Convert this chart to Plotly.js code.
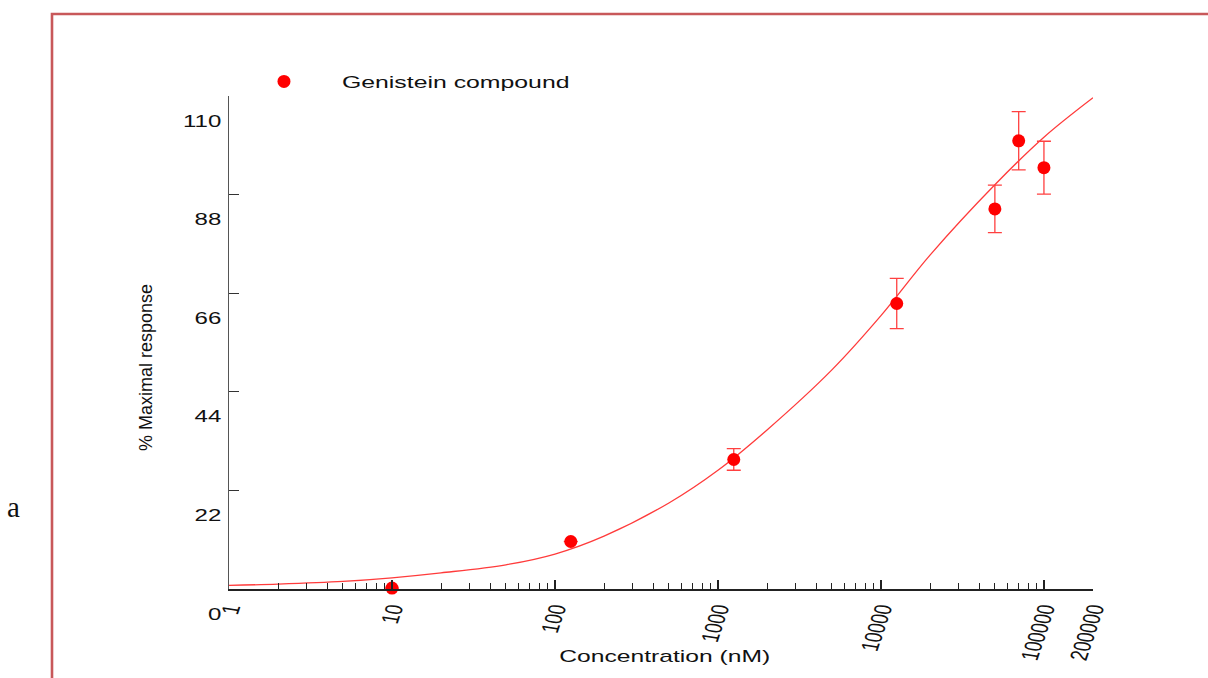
<!DOCTYPE html>
<html>
<head>
<meta charset="utf-8">
<script src="https://cdn.plot.ly/plotly-3.0.1.min.js"></script>
<style>
  html, body { margin: 0; padding: 0; background: #fff; }
  #chart { width: 1208px; height: 678px; }
</style>
</head>
<body>
<div id="chart"></div>
<script>
// ---- data ----
const seriesName = 'Genistein compound';
const ptX   = [10, 125, 1250, 12500, 50000, 70000, 100000];
const ptY   = [0.2, 10.6, 28.9, 63.7, 84.8, 100.0, 94.0];
const ptErr = [0, 0, 2.4, 5.6, 5.3, 6.5, 5.9];

const curveX = [1, 2, 5, 10, 20, 50, 100, 200, 500, 1000, 2000, 5000, 10000, 20000, 50000, 100000, 200000];
const curveY = [0.8, 1.1, 1.7, 2.5, 3.6, 5.4, 7.8, 11.8, 19.2, 26.5, 35.5, 48.9, 61.0, 74.5, 90.2, 100.8, 109.6];

const xTickVals = [1, 10, 100, 1000, 10000, 100000, 200000];
const xTickText = ['1', '10', '100', '1000', '10000', '100000', '200000'];
const yTickVals = [0, 22, 44, 66, 88, 110];
const yTickText = ['0', '22', '44', '66', '88', '110'];

const xTitle = 'Concentration (nM)';
const yTitle = '% Maximal response';
const panelLabel = 'a';

// ---- figure ----
const RED = '#ff0000';
const traces = [
  {
    x: curveX, y: curveY, type: 'scatter', mode: 'lines',
    line: { color: '#ff3b3b', width: 1.3, shape: 'spline', smoothing: 1 },
    showlegend: false, hoverinfo: 'skip'
  },
  {
    x: ptX, y: ptY, type: 'scatter', mode: 'markers', name: seriesName,
    marker: { color: RED, size: 13, symbol: 'circle' },
    error_y: { type: 'data', array: ptErr, visible: true, color: '#ff4040', thickness: 1.3, width: 7 },
    cliponaxis: false
  }
];

const FONT = 'Liberation Sans, Arial, sans-serif';
const axisFont = { family: FONT, size: 16, color: '#111' };

const layout = {
  width: 1208, height: 678,
  margin: { l: 229, r: 115, t: 96, b: 89, pad: 0 },
  paper_bgcolor: '#fff', plot_bgcolor: '#fff',
  font: axisFont,
  showlegend: true,
  legend: {
    x: -0.0035, y: 1.0294, xanchor: 'left', yanchor: 'middle',
    itemwidth: 106, bgcolor: 'rgba(0,0,0,0)', borderwidth: 0,
    font: { family: FONT, size: 16, color: '#111' }
  },
  xaxis: {
    type: 'log', range: [0, Math.log10(200000)],
    tickmode: 'array', tickvals: xTickVals, ticktext: xTickText,
    tickangle: -77, ticks: 'inside', ticklen: 9, tickwidth: 1.2, tickcolor: '#222',
    ticklabelstandoff: 0,
    minor: { ticks: 'inside', ticklen: 6, tickwidth: 1, tickcolor: '#222', dtick: 'D1', showgrid: false },
    showline: true, linecolor: '#222', linewidth: 1.5,
    showgrid: false, zeroline: false,
    tickfont: { family: FONT, size: 17, color: '#111' },
    automargin: false
  },
  yaxis: {
    range: [0, 110], tickmode: 'array', tickvals: yTickVals, ticktext: yTickText,
    ticks: 'inside', ticklen: 10, tickwidth: 1.2, tickcolor: '#333',
    ticklabelshift: 25, ticklabelstandoff: 3,
    showline: true, linecolor: '#555', linewidth: 1.5,
    showgrid: false, zeroline: false,
    tickfont: { family: FONT, size: 16, color: '#111' },
    automargin: false
  },
  annotations: [
    { text: xTitle, xref: 'paper', yref: 'paper', x: (665 - 229) / 864, y: (589 - 656) / 493,
      xanchor: 'center', yanchor: 'middle', showarrow: false,
      font: { family: FONT, size: 17, color: '#111' } },
    { text: yTitle, xref: 'paper', yref: 'paper', x: (146 - 229) / 864, y: (589 - 368) / 493,
      xanchor: 'center', yanchor: 'middle', showarrow: false, textangle: -90,
      font: { family: FONT, size: 18, color: '#111' } },
    { text: panelLabel, xref: 'paper', yref: 'paper', x: (13 - 229) / 864, y: (589 - 507) / 493,
      xanchor: 'center', yanchor: 'middle', showarrow: false,
      font: { family: 'Liberation Serif, Times New Roman, serif', size: 29, color: '#111' } }
  ],
  shapes: [
    { type: 'rect', xref: 'paper', yref: 'paper', layer: 'below',
      x0: (52 - 229) / 864, x1: (1230 - 229) / 864, y0: (589 - 700) / 493, y1: (589 - 14) / 493,
      line: { color: '#c8585a', width: 2.6 }, fillcolor: 'rgba(0,0,0,0)' }
  ]
};

function stretchEl(t, f) {
  const w = t.getComputedTextLength();
  if (w > 0) {
    t.setAttribute('textLength', (w * f).toFixed(1));
    t.setAttribute('lengthAdjust', 'spacingAndGlyphs');
  }
}

// widen a (possibly rotated) label horizontally about its top-right corner, then nudge it
function widenAbout(t, f, dx, dy) {
  const svg = t.ownerSVGElement;
  const r = t.getBoundingClientRect();
  const P = t.parentNode.getScreenCTM();
  const pt = svg.createSVGPoint();
  pt.x = r.right; pt.y = r.top;
  const loc = pt.matrixTransform(P.inverse());
  const old = t.getAttribute('transform') || '';
  t.setAttribute('transform',
    'translate(' + (loc.x + dx) + ',' + (loc.y + dy) + ') scale(' + f + ',1) translate(' + (-loc.x) + ',' + (-loc.y) + ') ' + old);
}

Plotly.newPlot('chart', traces, layout, { staticPlot: true, displayModeBar: false }).then(function () {
  document.querySelectorAll('#chart g.ytick text').forEach(function (t) { stretchEl(t, 1.5); });
  document.querySelectorAll('#chart g.xtick text').forEach(function (t) { widenAbout(t, 1.45, 5, 2); });
  document.querySelectorAll('#chart text.legendtext').forEach(function (t) { stretchEl(t, 1.55); });
  document.querySelectorAll('#chart .legend .scrollbox').forEach(function (g) { g.removeAttribute('clip-path'); });
  document.querySelectorAll('#chart text.annotation-text').forEach(function (t) {
    if (t.textContent === xTitle) stretchEl(t, 1.45);
  });
});
</script>
</body>
</html>
